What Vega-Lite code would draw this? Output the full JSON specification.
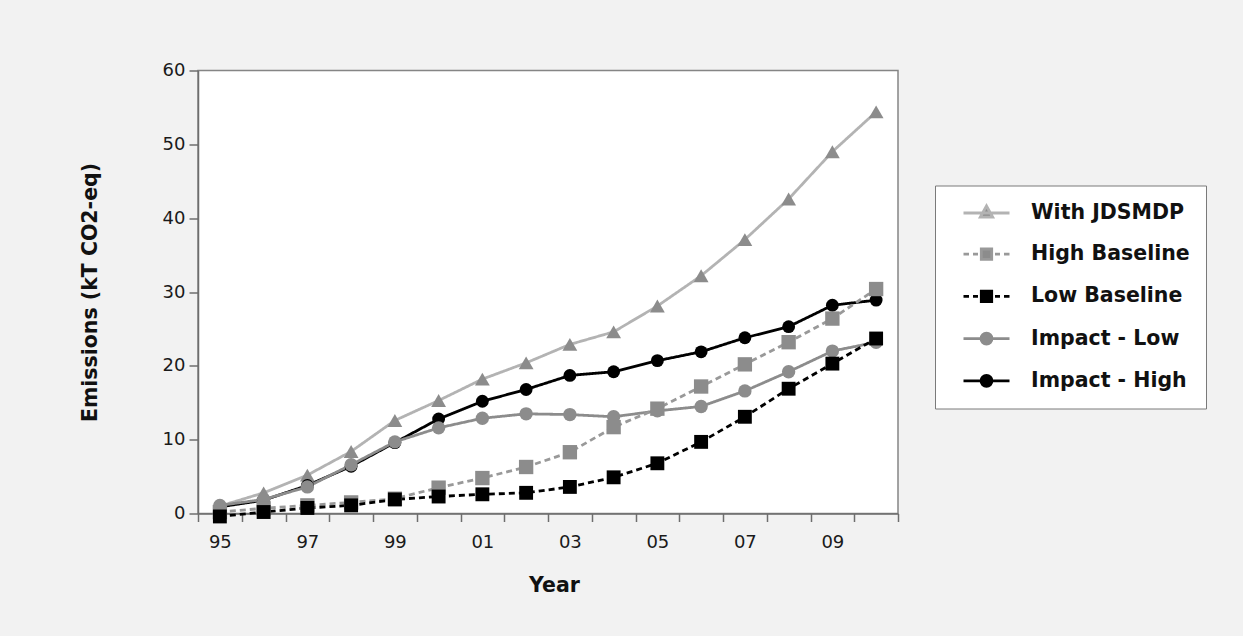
{
  "$schema": "https://vega.github.io/schema/vega-lite/v6.json",
  "width": 700,
  "height": 443,
  "autosize": {"type": "none"},
  "padding": {"left": 198, "top": 70.5, "right": 345, "bottom": 122.5},
  "background": "#f2f2f2",
  "config": {
    "view": {"fill": "white", "stroke": "#858585", "strokeWidth": 1.5},
    "font": "DejaVu Sans",
    "axis": {
      "labelFont": "DejaVu Sans", "labelFontSize": 18, "labelColor": "#1a1a1a",
      "titleFont": "DejaVu Sans", "titleFontWeight": "bold", "titleFontSize": 20.5, "titleColor": "#111111",
      "domainColor": "#6e6e6e", "domainWidth": 1.5, "tickColor": "#6e6e6e", "tickWidth": 1.5, "grid": false
    }
  },
  "datasets": {
    "emis": [
      {"series": "With JDSMDP", "year": 1995, "value": 1.0},
      {"series": "With JDSMDP", "year": 1996, "value": 2.8},
      {"series": "With JDSMDP", "year": 1997, "value": 5.2},
      {"series": "With JDSMDP", "year": 1998, "value": 8.4},
      {"series": "With JDSMDP", "year": 1999, "value": 12.6},
      {"series": "With JDSMDP", "year": 2000, "value": 15.3},
      {"series": "With JDSMDP", "year": 2001, "value": 18.2},
      {"series": "With JDSMDP", "year": 2002, "value": 20.4},
      {"series": "With JDSMDP", "year": 2003, "value": 22.9},
      {"series": "With JDSMDP", "year": 2004, "value": 24.6},
      {"series": "With JDSMDP", "year": 2005, "value": 28.1},
      {"series": "With JDSMDP", "year": 2006, "value": 32.2},
      {"series": "With JDSMDP", "year": 2007, "value": 37.1},
      {"series": "With JDSMDP", "year": 2008, "value": 42.6},
      {"series": "With JDSMDP", "year": 2009, "value": 49.0},
      {"series": "With JDSMDP", "year": 2010, "value": 54.4},
      {"series": "Impact - High", "year": 1995, "value": 0.9},
      {"series": "Impact - High", "year": 1996, "value": 1.8},
      {"series": "Impact - High", "year": 1997, "value": 3.8},
      {"series": "Impact - High", "year": 1998, "value": 6.4},
      {"series": "Impact - High", "year": 1999, "value": 9.6},
      {"series": "Impact - High", "year": 2000, "value": 12.8},
      {"series": "Impact - High", "year": 2001, "value": 15.2},
      {"series": "Impact - High", "year": 2002, "value": 16.8},
      {"series": "Impact - High", "year": 2003, "value": 18.7},
      {"series": "Impact - High", "year": 2004, "value": 19.2},
      {"series": "Impact - High", "year": 2005, "value": 20.7},
      {"series": "Impact - High", "year": 2006, "value": 21.9},
      {"series": "Impact - High", "year": 2007, "value": 23.8},
      {"series": "Impact - High", "year": 2008, "value": 25.3},
      {"series": "Impact - High", "year": 2009, "value": 28.2},
      {"series": "Impact - High", "year": 2010, "value": 28.9},
      {"series": "Impact - Low", "year": 1995, "value": 1.1},
      {"series": "Impact - Low", "year": 1996, "value": 1.9},
      {"series": "Impact - Low", "year": 1997, "value": 3.6},
      {"series": "Impact - Low", "year": 1998, "value": 6.6},
      {"series": "Impact - Low", "year": 1999, "value": 9.7},
      {"series": "Impact - Low", "year": 2000, "value": 11.6},
      {"series": "Impact - Low", "year": 2001, "value": 12.9},
      {"series": "Impact - Low", "year": 2002, "value": 13.5},
      {"series": "Impact - Low", "year": 2003, "value": 13.4},
      {"series": "Impact - Low", "year": 2004, "value": 13.1},
      {"series": "Impact - Low", "year": 2005, "value": 13.9},
      {"series": "Impact - Low", "year": 2006, "value": 14.5},
      {"series": "Impact - Low", "year": 2007, "value": 16.6},
      {"series": "Impact - Low", "year": 2008, "value": 19.2},
      {"series": "Impact - Low", "year": 2009, "value": 22.0},
      {"series": "Impact - Low", "year": 2010, "value": 23.2},
      {"series": "High Baseline", "year": 1995, "value": 0.2},
      {"series": "High Baseline", "year": 1996, "value": 0.7},
      {"series": "High Baseline", "year": 1997, "value": 1.1},
      {"series": "High Baseline", "year": 1998, "value": 1.5},
      {"series": "High Baseline", "year": 1999, "value": 2.0},
      {"series": "High Baseline", "year": 2000, "value": 3.5},
      {"series": "High Baseline", "year": 2001, "value": 4.8},
      {"series": "High Baseline", "year": 2002, "value": 6.3},
      {"series": "High Baseline", "year": 2003, "value": 8.3},
      {"series": "High Baseline", "year": 2004, "value": 11.7},
      {"series": "High Baseline", "year": 2005, "value": 14.2},
      {"series": "High Baseline", "year": 2006, "value": 17.2},
      {"series": "High Baseline", "year": 2007, "value": 20.2},
      {"series": "High Baseline", "year": 2008, "value": 23.2},
      {"series": "High Baseline", "year": 2009, "value": 26.4},
      {"series": "High Baseline", "year": 2010, "value": 30.4},
      {"series": "Low Baseline", "year": 1995, "value": -0.4},
      {"series": "Low Baseline", "year": 1996, "value": 0.2},
      {"series": "Low Baseline", "year": 1997, "value": 0.75},
      {"series": "Low Baseline", "year": 1998, "value": 1.1},
      {"series": "Low Baseline", "year": 1999, "value": 1.9},
      {"series": "Low Baseline", "year": 2000, "value": 2.3},
      {"series": "Low Baseline", "year": 2001, "value": 2.6},
      {"series": "Low Baseline", "year": 2002, "value": 2.8},
      {"series": "Low Baseline", "year": 2003, "value": 3.6},
      {"series": "Low Baseline", "year": 2004, "value": 4.9},
      {"series": "Low Baseline", "year": 2005, "value": 6.8},
      {"series": "Low Baseline", "year": 2006, "value": 9.7},
      {"series": "Low Baseline", "year": 2007, "value": 13.1},
      {"series": "Low Baseline", "year": 2008, "value": 16.9},
      {"series": "Low Baseline", "year": 2009, "value": 20.3},
      {"series": "Low Baseline", "year": 2010, "value": 23.7}
    ]
  },
  "data": {"name": "emis"},
  "encoding": {
    "x": {
      "field": "year", "type": "ordinal",
      "scale": {"type": "band", "paddingInner": 0, "paddingOuter": 0},
      "axis": {
        "title": "Year", "tickBand": "extent", "labelAngle": 0, "labelOverlap": false,
        "labelExpr": "datum.value % 2 == 1 ? substring(toString(datum.value), 2, 4) : ''",
        "tickSize": 8, "labelPadding": 12, "titlePadding": 24, "titleX": 356
      }
    },
    "y": {
      "field": "value", "type": "quantitative",
      "scale": {"domain": [0, 60], "nice": false},
      "axis": {"title": "Emissions (kT CO2-eq)", "values": [0, 10, 20, 30, 40, 50, 60], "tickSize": 9, "labelPadding": 4, "titlePadding": 62}
    }
  },
  "layer": [
    {
      "mark": {"type": "line", "strokeWidth": 2.8},
      "encoding": {
        "stroke": {"field": "series", "type": "nominal", "legend": null,
          "scale": {"domain": ["With JDSMDP", "High Baseline", "Low Baseline", "Impact - Low", "Impact - High"],
                    "range": ["#b3b3b3", "#999999", "#000000", "#8c8c8c", "#000000"]}},
        "strokeDash": {"field": "series", "type": "nominal", "legend": null,
          "scale": {"domain": ["With JDSMDP", "High Baseline", "Low Baseline", "Impact - Low", "Impact - High"],
                    "range": [[1, 0], [6, 4], [6, 4], [1, 0], [1, 0]]}}
      }
    },
    {
      "mark": {"type": "point", "filled": true, "opacity": 1},
      "encoding": {
        "fill": {"field": "series", "type": "nominal", "legend": null,
          "scale": {"domain": ["With JDSMDP", "High Baseline", "Low Baseline", "Impact - Low", "Impact - High"],
                    "range": ["#8c8c8c", "#8c8c8c", "#000000", "#8c8c8c", "#000000"]}},
        "shape": {"field": "series", "type": "nominal", "legend": null,
          "scale": {"domain": ["With JDSMDP", "High Baseline", "Low Baseline", "Impact - Low", "Impact - High"],
                    "range": ["triangle-up", "square", "square", "circle", "circle"]}},
        "size": {"field": "series", "type": "nominal", "legend": null,
          "scale": {"domain": ["With JDSMDP", "High Baseline", "Low Baseline", "Impact - Low", "Impact - High"],
                    "range": [220, 165, 165, 175, 175]}}
      }
    },
    {
      "data": {"values": []},
      "mark": {"type": "point", "filled": true, "opacity": 1},
      "encoding": {
        "shape": {"field": "series", "type": "nominal",
          "scale": {"domain": ["With JDSMDP", "High Baseline", "Low Baseline", "Impact - Low", "Impact - High"],
                    "range": [
                      "M-2.3,0L2.3,0M0,-0.7L0.62,0.42L-0.62,0.42Z",
                      "M-2.3,0L-1.75,0M-1.35,0L-0.85,0M0.85,0L1.35,0M1.75,0L2.3,0M-0.52,-0.52L0.52,-0.52L0.52,0.52L-0.52,0.52Z",
                      "M-2.3,0L-1.75,0M-1.35,0L-0.85,0M0.85,0L1.35,0M1.75,0L2.3,0M-0.52,-0.52L0.52,-0.52L0.52,0.52L-0.52,0.52Z",
                      "M-2.3,0L2.3,0M-0.55,0A0.55,0.55,0,1,0,0.55,0A0.55,0.55,0,1,0,-0.55,0Z",
                      "M-2.3,0L2.3,0M-0.55,0A0.55,0.55,0,1,0,0.55,0A0.55,0.55,0,1,0,-0.55,0Z"
                    ]},
          "legend": {
            "title": null, "orient": "none", "legendX": 737, "legendY": 115,
            "fillColor": "white", "strokeColor": "#7a7a7a", "padding": 16,
            "symbolSize": 400, "symbolStrokeWidth": 2.8, "symbolOffset": 24, "labelOffset": 33,
            "labelFont": "DejaVu Sans", "labelFontWeight": "bold", "labelFontSize": 20.5, "labelColor": "#111111",
            "rowPadding": 19.2, "labelLimit": 300
          }
        },
        "fill": {"field": "series", "type": "nominal",
          "scale": {"domain": ["With JDSMDP", "High Baseline", "Low Baseline", "Impact - Low", "Impact - High"],
                    "range": ["#8c8c8c", "#8c8c8c", "#000000", "#8c8c8c", "#000000"]}},
        "stroke": {"field": "series", "type": "nominal",
          "scale": {"domain": ["With JDSMDP", "High Baseline", "Low Baseline", "Impact - Low", "Impact - High"],
                    "range": ["#b3b3b3", "#999999", "#000000", "#8c8c8c", "#000000"]}}
      }
    }
  ],
  "resolve": {"scale": {"shape": "independent", "fill": "independent", "stroke": "independent", "strokeDash": "independent", "size": "independent"}}
}
